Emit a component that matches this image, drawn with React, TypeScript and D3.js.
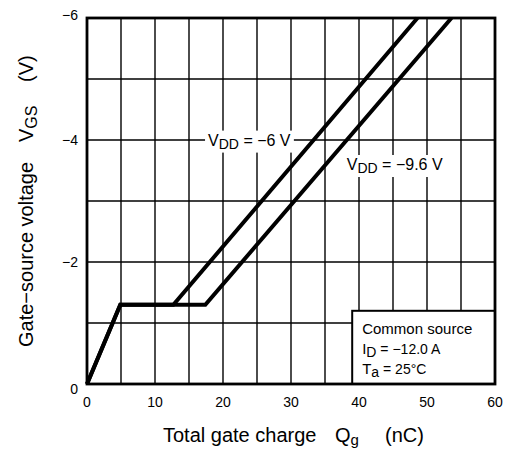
import * as d3 from "d3"
import { useEffect, useRef } from "react"

const WIDTH = 507
const HEIGHT = 450

// gate charge (nC) vs gate-source voltage (V)
const qgVdd6 = [0, 4.9, 12.7, 48.6]
const vgsVdd6 = [0, -1.3, -1.3, -6]
const qgVdd96 = [0, 4.9, 17.4, 53.6]
const vgsVdd96 = [0, -1.3, -1.3, -6]

const xTicks = [0, 10, 20, 30, 40, 50, 60]
const yTicks = [0, -2, -4, -6]
const xGrid = [5, 10, 15, 20, 25, 30, 35, 40, 45, 50, 55]
const yGrid = [-1, -2, -3, -4, -5]

const legendLines = [
  { main: "Common source", sub: "", rest: "" },
  { main: "I", sub: "D", rest: " = \u221212.0 A" },
  { main: "T", sub: "a", rest: " = 25\u00b0C" },
]

const FONT = "'Liberation Sans', Arial, Helvetica, sans-serif"

const App = () => {
  const svgRef = useRef<SVGSVGElement>(null)

  useEffect(() => {
    if (!svgRef.current) return
    d3.select(svgRef.current).selectAll("*").remove()

    const MARGIN = { top: 18, right: 12, bottom: 66, left: 87 }
    const svg = d3
      .select(svgRef.current)
      .attr("width", WIDTH)
      .attr("height", HEIGHT)
      .style("font-family", FONT)

    const x = d3
      .scaleLinear()
      .domain([0, 60])
      .range([MARGIN.left, WIDTH - MARGIN.right])
    const y = d3
      .scaleLinear()
      .domain([0, -6])
      .range([HEIGHT - MARGIN.bottom, MARGIN.top])

    svg
      .append("rect")
      .attr("width", WIDTH)
      .attr("height", HEIGHT)
      .attr("fill", "#fff")

    // grid
    svg
      .append("g")
      .selectAll("line")
      .data(xGrid)
      .join("line")
      .attr("x1", (d) => x(d))
      .attr("x2", (d) => x(d))
      .attr("y1", y(0))
      .attr("y2", y(-6))
      .attr("stroke", "#000")
      .attr("stroke-width", 1.4)
    svg
      .append("g")
      .selectAll("line")
      .data(yGrid)
      .join("line")
      .attr("x1", x(0))
      .attr("x2", x(60))
      .attr("y1", (d) => y(d))
      .attr("y2", (d) => y(d))
      .attr("stroke", "#000")
      .attr("stroke-width", 1.4)

    // curves
    const line = d3
      .line<[number, number]>()
      .x((d) => x(d[0]))
      .y((d) => y(d[1]))
    const series = [
      d3.zip(qgVdd6, vgsVdd6) as [number, number][],
      d3.zip(qgVdd96, vgsVdd96) as [number, number][],
    ]
    svg
      .append("g")
      .selectAll("path")
      .data(series)
      .join("path")
      .attr("d", (d) => line(d))
      .attr("fill", "none")
      .attr("stroke", "#000")
      .attr("stroke-width", 4)
      .attr("stroke-linejoin", "miter")

    // curve labels with white backing
    const addLabel = (qx: number, vy: number, value: string) => {
      const g = svg.append("g")
      const bg = g.append("rect").attr("fill", "#fff")
      const t = g
        .append("text")
        .attr("x", x(qx))
        .attr("y", y(vy))
        .attr("dy", "0.35em")
        .attr("font-size", 16)
        .attr("fill", "#000")
      t.append("tspan").text("V")
      t.append("tspan").attr("font-size", 14).attr("dy", 3).text("DD")
      t.append("tspan").attr("dy", -3).text(` = ${value} V`)
      const bb = (t.node() as SVGTextElement).getBBox()
      bg.attr("x", bb.x - 3)
        .attr("y", bb.y - 1)
        .attr("width", bb.width + 6)
        .attr("height", bb.height + 2)
    }
    addLabel(17.8, -4, "\u22126")
    addLabel(38.2, -3.6, "\u22129.6")

    // legend box
    const lx0 = x(39)
    const ly0 = y(-1.2)
    svg
      .append("rect")
      .attr("x", lx0)
      .attr("y", ly0)
      .attr("width", x(60) - lx0)
      .attr("height", y(0) - ly0)
      .attr("fill", "#fff")
      .attr("stroke", "#000")
      .attr("stroke-width", 2)
    legendLines.forEach((l, i) => {
      const t = svg
        .append("text")
        .attr("x", lx0 + 10)
        .attr("y", ly0 + 23 + i * 20)
        .attr("font-size", 15)
        .attr("fill", "#000")
      t.append("tspan").text(l.main)
      if (l.sub) {
        t.append("tspan").attr("font-size", 14).attr("dy", 3).text(l.sub)
        t.append("tspan").attr("dy", -3).attr("font-size", 14).text(l.rest)
      }
    })

    // frame
    svg
      .append("rect")
      .attr("x", x(0))
      .attr("y", y(-6))
      .attr("width", x(60) - x(0))
      .attr("height", y(0) - y(-6))
      .attr("fill", "none")
      .attr("stroke", "#000")
      .attr("stroke-width", 2.8)

    // tick labels
    svg
      .append("g")
      .selectAll("text")
      .data(xTicks)
      .join("text")
      .attr("x", (d) => x(d))
      .attr("y", y(0) + 23)
      .attr("text-anchor", "middle")
      .attr("font-size", 14)
      .text((d) => d3.format("d")(d))
    svg
      .append("g")
      .selectAll("text")
      .data(yTicks)
      .join("text")
      .attr("x", x(0) - 9)
      .attr("y", (d) => y(d) + (d === 0 ? 10 : d === -6 ? 2 : 5))
      .attr("text-anchor", "end")
      .attr("font-size", 14)
      .text((d) => (d === 0 ? "0" : `\u2212${Math.abs(d)}`))

    // x axis title
    const xTitle = svg.append("g").attr("font-size", 20)
    xTitle.append("text").attr("x", 163).attr("y", 442).text("Total gate charge")
    const q = xTitle.append("text").attr("x", 335).attr("y", 442)
    q.append("tspan").text("Q")
    q.append("tspan").attr("font-size", 15).attr("dy", 3).text("g")
    xTitle.append("text").attr("x", 385).attr("y", 442).text("(nC)")

    // y axis title
    const yTitle = svg.append("g").attr("font-size", 20)
    yTitle
      .append("text")
      .attr("transform", "translate(33, 347) rotate(-90)")
      .text("Gate\u2212source voltage")
    const v = yTitle
      .append("text")
      .attr("transform", "translate(33, 142) rotate(-90)")
    v.append("tspan").text("V")
    v.append("tspan").attr("font-size", 16).attr("dy", 4).text("GS")
    yTitle
      .append("text")
      .attr("transform", "translate(33, 82) rotate(-90)")
      .text("(V)")
  }, [])

  return (
    <svg
      ref={svgRef}
      style={{ position: "absolute", left: 0, top: 0, display: "block" }}
    />
  )
}

export default App
